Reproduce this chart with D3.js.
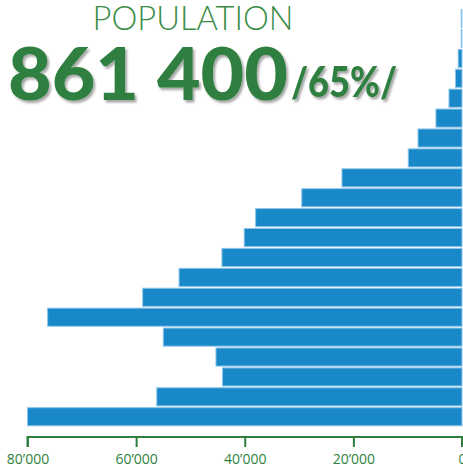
<!DOCTYPE html>
<html>
<head>
<meta charset="utf-8">
<script src="https://cdn.jsdelivr.net/npm/d3@7"></script>
<style>
html,body{margin:0;padding:0;background:#fff;}
svg{display:block;}
</style>
</head>
<body>
<svg id="chart" width="463" height="469"></svg>
<script>
// Data (top bar = oldest group)
const ageGroups = ["100+","95-99","90-94","85-89","80-84","75-79","70-74","65-69","60-64","55-59","50-54","45-49","40-44","35-39","30-34","25-29","20-24","15-19","10-14","5-9","0-4"];
const population = [150,150,700,1200,2400,4800,8100,9900,22100,29500,38000,40100,44200,52100,58800,76300,55000,45300,44100,56200,80000];
const tickValues = [80000,60000,40000,20000,0];
const tickLabels = ["80’000","60’000","40’000","20’000","0"];
const titleText = "POPULATION";
const totalText = "861 400";
const shareText = "/65%/";

const svg = d3.select("#chart");
const green = "#2f7f3f";

const defs = svg.append("defs");
const f = defs.append("filter").attr("id","sh").attr("x","-10%").attr("y","-10%").attr("width","130%").attr("height","140%");
f.append("feDropShadow").attr("dx",2).attr("dy",2.5).attr("stdDeviation",1.2).attr("flood-color","#000").attr("flood-opacity",0.35);

const x = d3.scaleLinear().domain([0,80000]).range([462,27.5]);
const y = d3.scaleBand().domain(ageGroups).range([9.5,425.8]).paddingInner(0.09).paddingOuter(0);

svg.append("g").selectAll("rect").data(ageGroups).join("rect")
  .attr("x",(d,i)=>x(population[i]))
  .attr("y",d=>y(d))
  .attr("width",(d,i)=>x(0)-x(population[i]))
  .attr("height",y.bandwidth())
  .attr("fill","#1888c9")
  .attr("stroke","#8ec5ea")
  .attr("stroke-width",1);

// Axis
const axis = d3.axisBottom(x).tickValues(tickValues).tickSize(10)
  .tickFormat((d,i)=>tickLabels[i]);
const gAx = svg.append("g").attr("transform","translate(0,437)").call(axis);
gAx.select(".domain").attr("stroke",green).attr("stroke-width",2).attr("d",`M${x(80000)},10V0H${x(0)}V10`);
gAx.selectAll(".tick line").attr("stroke",green).attr("stroke-width",2);
gAx.selectAll(".tick text").attr("fill",green).attr("font-family","'Open Sans', sans-serif")
  .attr("font-size",14).attr("dy","0.95em").attr("y",14);

// Titles
svg.append("text").attr("x",193).attr("y",30).attr("text-anchor","middle")
  .attr("font-family","Lato, sans-serif").attr("font-weight",300).attr("font-size",34)
  .attr("fill","#3a8c47").attr("textLength",201).attr("lengthAdjust","spacingAndGlyphs")
  .text(titleText);

svg.append("text").attr("x",8).attr("y",100)
  .attr("font-family","Lato, sans-serif").attr("font-weight",900).attr("font-size",72)
  .attr("fill",green).attr("filter","url(#sh)")
  .attr("textLength",280).attr("lengthAdjust","spacingAndGlyphs")
  .text(totalText);

svg.append("text").attr("x",291).attr("y",97)
  .attr("font-family","Lato, sans-serif").attr("font-weight",900).attr("font-size",42)
  .attr("fill",green).attr("filter","url(#sh)")
  .attr("textLength",106).attr("lengthAdjust","spacingAndGlyphs")
  .text(shareText);
</script>
</body>
</html>
